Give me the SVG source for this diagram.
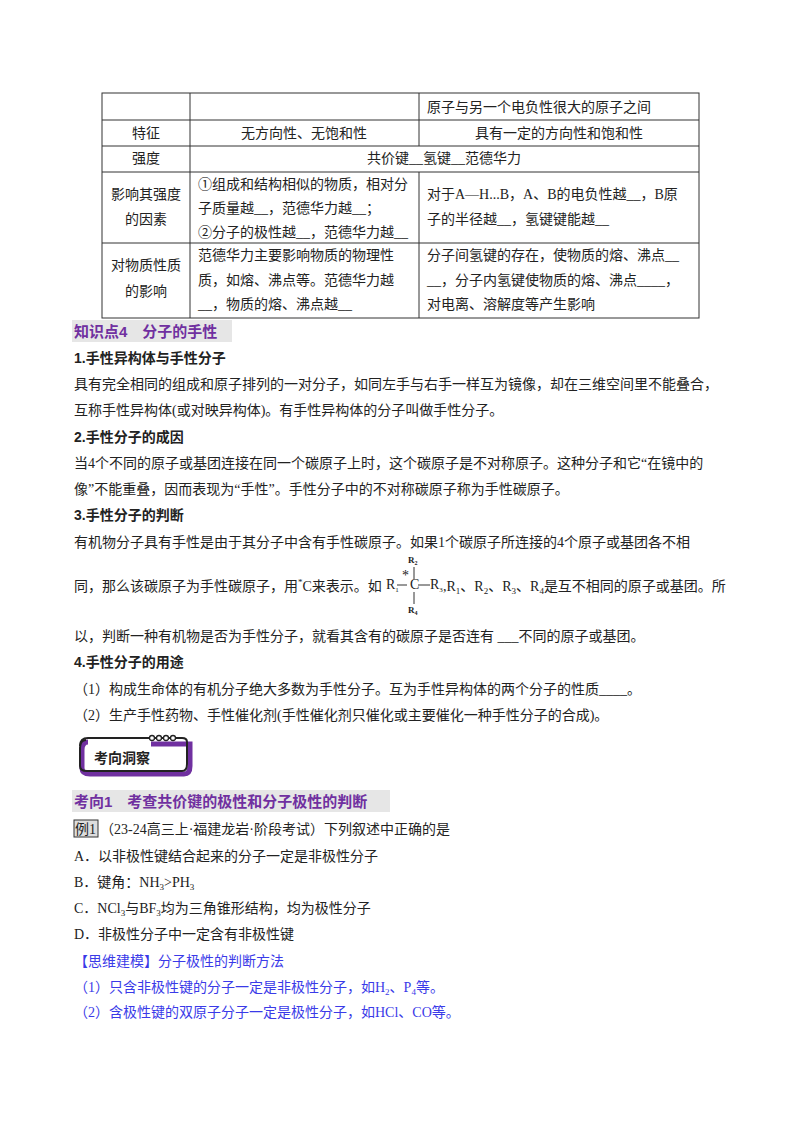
<svg xmlns="http://www.w3.org/2000/svg" width="800" height="1132" viewBox="0 0 800 1132">
<style>
text{font-family:"Liberation Serif","Noto Sans CJK SC",serif;font-size:14px;fill:#222}
.b{font-weight:bold;font-family:"Liberation Sans","Noto Sans CJK SC",sans-serif}
.p{fill:#7030a0;font-weight:bold;font-size:15px;font-family:"Liberation Sans","Noto Sans CJK SC",sans-serif}
.bl{fill:#3a3ae8}
.c{text-anchor:middle}
.s{font-size:9px}
line.t{stroke:#333;stroke-width:1}
</style>
<rect width="800" height="1132" fill="#fff"/>
<g id="table" fill="none">
<rect x="102" y="93" width="597" height="225" stroke="#333"/>
<line class="t" x1="102" y1="120" x2="699" y2="120"/>
<line class="t" x1="102" y1="146" x2="699" y2="146"/>
<line class="t" x1="102" y1="172" x2="699" y2="172"/>
<line class="t" x1="102" y1="243" x2="699" y2="243"/>
<line class="t" x1="190" y1="93" x2="190" y2="318"/>
<line class="t" x1="419" y1="93" x2="419" y2="146"/>
<line class="t" x1="419" y1="172" x2="419" y2="318"/>
</g>
<g id="tabletext">
<text x="427" y="112">原子与另一个电负性很大的原子之间</text>
<text x="146" y="138" class="c">特征</text>
<text x="304" y="138" class="c">无方向性、无饱和性</text>
<text x="559" y="138" class="c">具有一定的方向性和饱和性</text>
<text x="146" y="163" class="c">强度</text>
<text x="444" y="163" class="c">共价键__氢键__范德华力</text>
<text x="146" y="199" class="c">影响其强度</text>
<text x="146" y="224" class="c">的因素</text>
<text x="198" y="189">①组成和结构相似的物质，相对分</text>
<text x="198" y="213">子质量越__，范德华力越__；</text>
<text x="198" y="237">②分子的极性越__，范德华力越__</text>
<text x="427" y="199">对于A—H...B，A、B的电负性越__，B原</text>
<text x="427" y="224">子的半径越__，氢键键能越__</text>
<text x="146" y="270" class="c">对物质性质</text>
<text x="146" y="296" class="c">的影响</text>
<text x="198" y="260">范德华力主要影响物质的物理性</text>
<text x="198" y="285">质，如熔、沸点等。范德华力越</text>
<text x="198" y="309">__，物质的熔、沸点越__</text>
<text x="427" y="260">分子间氢键的存在，使物质的熔、沸点__</text>
<text x="427" y="285">__，分子内氢键使物质的熔、沸点____，</text>
<text x="427" y="309">对电离、溶解度等产生影响</text>
</g>
<g id="section4">
<rect x="72" y="320" width="160" height="22" fill="#e6e6e6"/>
<text x="74" y="337" class="p">知识点4　分子的手性</text>
<text x="74" y="363" class="b">1.手性异构体与手性分子</text>
<text x="74" y="389">具有完全相同的组成和原子排列的一对分子，如同左手与右手一样互为镜像，却在三维空间里不能叠合，</text>
<text x="74" y="415">互称手性异构体(或对映异构体)。有手性异构体的分子叫做手性分子。</text>
<text x="74" y="442" class="b">2.手性分子的成因</text>
<text x="74" y="468">当4个不同的原子或基团连接在同一个碳原子上时，这个碳原子是不对称原子。这种分子和它“在镜中的</text>
<text x="74" y="494">像”不能重叠，因而表现为“手性”。手性分子中的不对称碳原子称为手性碳原子。</text>
<text x="74" y="520" class="b">3.手性分子的判断</text>
<text x="74" y="547">有机物分子具有手性是由于其分子中含有手性碳原子。如果1个碳原子所连接的4个原子或基团各不相</text>
<text x="74" y="591">同，那么该碳原子为手性碳原子，用<tspan class="s" dy="-6">*</tspan><tspan dy="6">C来表示。如</tspan></text>
<g id="formula">
<text x="408" y="563" class="s" font-weight="bold">R<tspan dy="2" font-size="6">2</tspan></text>
<line x1="414" y1="567" x2="414" y2="579" stroke="#333"/>
<text x="386" y="589" font-size="11">R<tspan dy="3" font-size="7">1</tspan></text>
<line x1="397" y1="585" x2="407" y2="585" stroke="#333"/>
<text x="402" y="580" font-size="7">*</text>
<text x="410" y="589" font-size="11">C</text>
<line x1="418" y1="585" x2="430" y2="585" stroke="#333"/>
<text x="430" y="589" font-size="11">R<tspan dy="3" font-size="7">3</tspan></text>
<line x1="414" y1="592" x2="414" y2="604" stroke="#333"/>
<text x="408" y="613" class="s" font-weight="bold">R<tspan dy="2" font-size="6">4</tspan></text>
</g>
<text x="443" y="591">,R<tspan dy="3" font-size="9">1</tspan><tspan dy="-3">、R</tspan><tspan dy="3" font-size="9">2</tspan><tspan dy="-3">、R</tspan><tspan dy="3" font-size="9">3</tspan><tspan dy="-3">、R</tspan><tspan dy="3" font-size="9">4</tspan><tspan dy="-3">是互不相同的原子或基团。所</tspan></text>
<text x="74" y="641">以，判断一种有机物是否为手性分子，就看其含有的碳原子是否连有 ___不同的原子或基团。</text>
<text x="74" y="667" class="b">4.手性分子的用途</text>
<text x="74" y="694">（1）构成生命体的有机分子绝大多数为手性分子。互为手性异构体的两个分子的性质____。</text>
<text x="74" y="720">（2）生产手性药物、手性催化剂(手性催化剂只催化或主要催化一种手性分子的合成)。</text>
</g>
<g id="badge">
<path d="M88 742 Q82 742 82 750 L82 768 Q82 774 90 774 L184 774 Q190 774 190 766 L190 744 L151 744" fill="none" stroke="#7030a0" stroke-width="5"/>
<path d="M86 740 Q80 740 80 748 L80 766 Q80 771 87 771 L182 771 Q187 771 187 764 L187 742 Q187 738 182 738 L150 738" fill="none" stroke="#222" stroke-width="2"/>
<path d="M88 738 Q80 738 80 746" fill="none" stroke="#222" stroke-width="2"/>
<line x1="88" y1="738" x2="150" y2="738" stroke="#222" stroke-width="2"/>
<g fill="#fff" stroke="#222" stroke-width="1.3"><circle cx="152" cy="738" r="2.5"/><circle cx="159" cy="738" r="2.5"/><circle cx="166" cy="738" r="2.5"/><circle cx="173" cy="738" r="2.5"/></g>
<text x="94" y="763" class="b" font-size="16">考向洞察</text>
</g>
<g id="section-kx1">
<rect x="72" y="790" width="318" height="22" fill="#e6e6e6"/>
<text x="74" y="807" class="p">考向1　考查共价键的极性和分子极性的判断</text>
<rect x="74" y="820" width="24" height="17" fill="#ddd" stroke="#333"/>
<text x="75" y="834">例1</text>
<text x="100" y="834">（23-24高三上·福建龙岩·阶段考试）下列叙述中正确的是</text>
<text x="74" y="861">A．以非极性键结合起来的分子一定是非极性分子</text>
<text x="74" y="887">B．键角：NH<tspan dy="3" font-size="9">3</tspan><tspan dy="-3">&gt;PH</tspan><tspan dy="3" font-size="9">3</tspan></text>
<text x="74" y="913">C．NCl<tspan dy="3" font-size="9">3</tspan><tspan dy="-3">与BF</tspan><tspan dy="3" font-size="9">3</tspan><tspan dy="-3">均为三角锥形结构，均为极性分子</tspan></text>
<text x="74" y="939">D．非极性分子中一定含有非极性键</text>
<text x="74" y="966" class="bl">【思维建模】分子极性的判断方法</text>
<text x="74" y="992" class="bl">（1）只含非极性键的分子一定是非极性分子，如H<tspan dy="3" font-size="9">2</tspan><tspan dy="-3">、P</tspan><tspan dy="3" font-size="9">4</tspan><tspan dy="-3">等。</tspan></text>
<text x="74" y="1017" class="bl">（2）含极性键的双原子分子一定是极性分子，如HCl、CO等。</text>
</g>
</svg>
